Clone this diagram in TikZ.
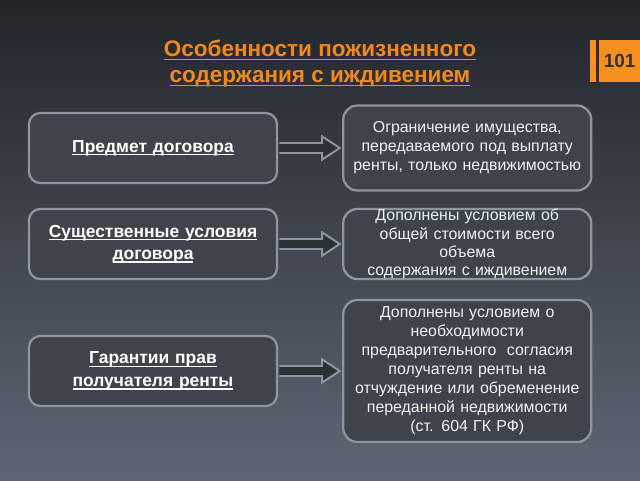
\documentclass[tikz,border=0pt]{standalone}
\usepackage{fontspec}
\setmainfont{Liberation Sans}
\usetikzlibrary{arrows.meta}
\usetikzlibrary{positioning}
\usetikzlibrary{calc}
\definecolor{bgTop}{HTML}{22262B}
\definecolor{bgMid}{HTML}{2F343A}
\definecolor{bgBottom}{HTML}{5F6672}
\definecolor{boxFill}{HTML}{3F434B}
\definecolor{boxLine}{HTML}{8D969E}
\definecolor{arrowFill}{HTML}{2C3136}
\definecolor{titleOrange}{HTML}{F2891A}
\definecolor{badgeOrange}{HTML}{F7901E}
\definecolor{badgeText}{HTML}{333333}
% underlined text, line close below the baseline
\newsavebox{\ulbox}
\newcommand{\ulText}[1]{\leavevmode\sbox{\ulbox}{#1}\rlap{\rule[-2.2pt]{\wd\ulbox}{0.9pt}}\usebox{\ulbox}}
\tikzset{
    leftbox/.style={rectangle, rounded corners=8pt, draw=boxLine, line width=1.6pt, fill=boxFill,
      minimum width=6.2cm, minimum height=1.75cm, text width=5.85cm, align=center, text=white,
      font=\bfseries\fontsize{12.4}{16}\selectfont},
    rightbox/.style={rectangle, rounded corners=10pt, draw=boxLine, line width=1.6pt, fill=boxFill,
      minimum width=6.2cm, text width=5.85cm, align=center, text=white!94!black, inner ysep=2pt,
      font=\fontsize{11.3}{13.5}\selectfont},
    arrowline/.style={draw=boxLine, line width=1.4pt, fill=arrowFill, line join=miter},
  }
% block arrow from the east side of #1 to the west side of #2
\newcommand{\blockArrow}[2]{%
  \filldraw[arrowline] ($(#1.east)+(0.03,0.125)$) -- ($(#2.west)+(-0.5,0.125)$)
    -- ($(#2.west)+(-0.5,0.29)$) -- ($(#2.west)+(-0.06,0)$) -- ($(#2.west)+(-0.5,-0.29)$)
    -- ($(#2.west)+(-0.5,-0.125)$) -- ($(#1.east)+(0.03,-0.125)$);}
\begin{document}
\begin{tikzpicture}
  % background
  \shade[top color=bgTop, middle color=bgMid, bottom color=bgBottom] (0,0) rectangle (16,12);
  \useasboundingbox (0,0) rectangle (16,12);

  \node[text=titleOrange, align=center, font=\bfseries\fontsize{16}{18.5}\selectfont] (title) at (8,10.4)
    {\ulText{Особенности пожизненного}\\\ulText{содержания с иждивением}};
  \node[fill=badgeOrange, minimum width=0.15cm, minimum height=1.05cm, inner sep=0pt] (badgebar) at (14.825,10.475) {};
  \node[fill=badgeOrange, minimum width=1.025cm, minimum height=1.05cm, inner sep=0pt,
    font=\bfseries\fontsize{13.5}{14}\selectfont] (badge) at (15.49,10.475) {\color{badgeText}101};

  % left column
  \node[leftbox] (subject) at (3.825,8.3) {\ulText{Предмет договора}};
  \node[leftbox] (terms) at (3.825,5.9) {\ulText{Существенные условия}\\\ulText{договора}};
  \node[leftbox] (guarantee) at (3.825,2.725) {\ulText{Гарантии прав}\\\ulText{получателя ренты}};

  % right column
  \node[rightbox, minimum height=2.125cm] (limit) [right=1.6cm of subject]
    {Ограничение имущества,\\передаваемого под выплату\\ренты, только недвижимостью};
  \node[rightbox, minimum height=1.75cm, inner ysep=0pt, font=\fontsize{11.3}{13}\selectfont] (cost) [right=1.6cm of terms]
    {Дополнены условием об\\общей стоимости всего\\объема\\содержания с иждивением};
  \node[rightbox, minimum height=3.55cm] (consent) [right=1.6cm of guarantee]
    {Дополнены условием о\\необходимости\\предварительного\ \ согласия\\получателя ренты на\\отчуждение или обременение\\переданной недвижимости\\(ст. 604 ГК РФ)};

  \blockArrow{subject}{limit}
  \blockArrow{terms}{cost}
  \blockArrow{guarantee}{consent}
\end{tikzpicture}
\end{document}
